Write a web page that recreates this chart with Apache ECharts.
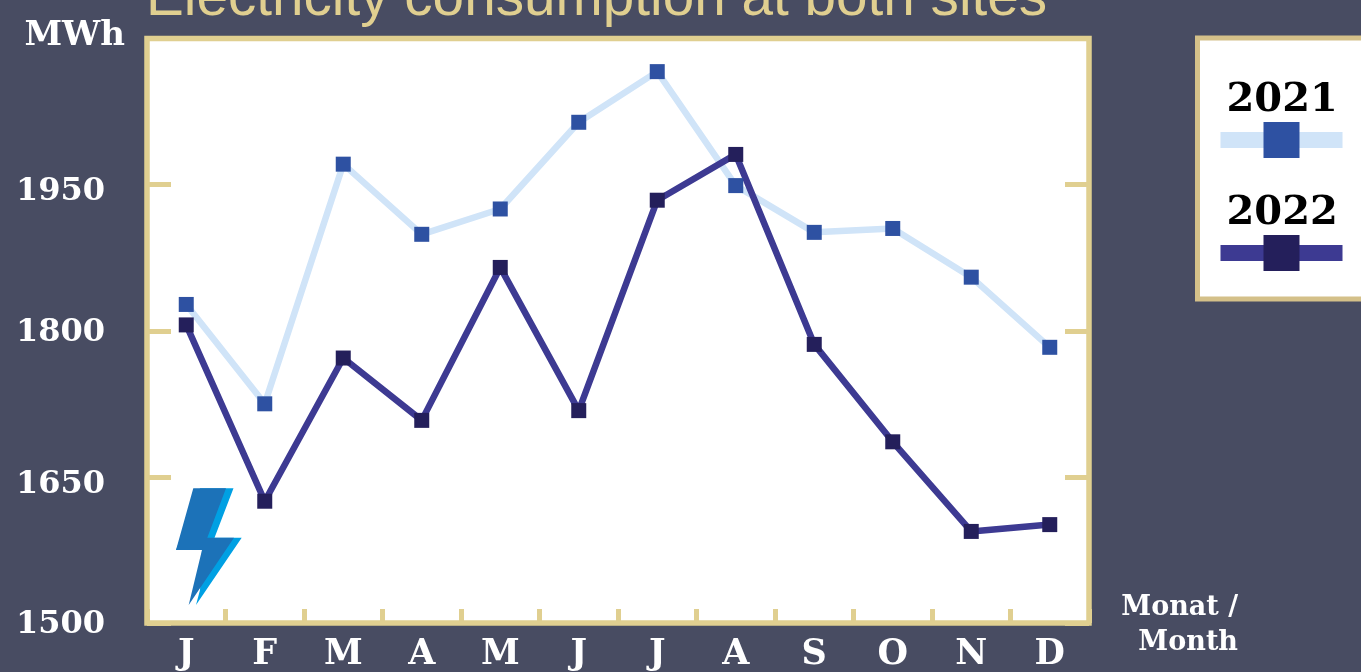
<!DOCTYPE html>
<html>
<head>
<meta charset="utf-8">
<script src="https://cdn.jsdelivr.net/npm/echarts@6/dist/echarts.min.js"></script>
<style>html,body{margin:0;padding:0;background:#484c62}#chart{width:1361px;height:672px}</style>
</head>
<body>
<div id="chart"></div>
<script>
const months = ['J','F','M','A','M','J','J','A','S','O','N','D'];
const values2021 = [1827,1725,1971,1899,1925,2014,2066,1949,1901,1905,1855,1783];
const values2022 = [1806,1625,1772,1708,1865,1718,1934,1981,1786,1686,1594,1601];
const chartTitle = 'Electricity consumption at both sites';
const yUnit = 'MWh';
const xName = 'Monat /\nMonth';

const serif = '"DejaVu Serif"';
const gold = '#e0cf90';

// Per-value rich styles nudge each tick label down to sit where its digits belong.
const yLabelRich = {
  d1500: { padding: [4, 0, 0, 0] },
  d1650: { padding: [16, 0, 0, 0] },
  d1800: { padding: [4, 0, 0, 0] },
  d1950: { padding: [14, 0, 0, 0] }
};

const chart = echarts.init(document.getElementById('chart'));
chart.setOption({
  animation: false,
  backgroundColor: '#484c62',
  title: {
    text: chartTitle, left: 141, top: -34,
    textStyle: { fontFamily: '"Liberation Sans"', fontWeight: 'normal', fontSize: 56.7, color: gold }
  },
  grid: {
    left: 147, top: 38.5, width: 942, height: 586,
    show: true, backgroundColor: '#ffffff', borderColor: gold, borderWidth: 5.5
  },
  legend: {
    left: 1197.5, top: 38, orient: 'vertical', itemWidth: 122, itemHeight: 45, itemGap: 35.5,
    padding: [42.5, 60, 28, 15], align: 'left',
    backgroundColor: '#ffffff', borderColor: '#d4c089', borderWidth: 5,
    lineStyle: { width: 16 },
    // The year sits above its line sample: bottom padding lifts the text off the icon's centre.
    formatter: name => '{year|' + name + '}',
    textStyle: {
      fontFamily: serif, fontWeight: 'bold', fontSize: 40, color: '#000', padding: [0, 0, 0, -121],
      rich: { year: { fontFamily: serif, fontWeight: 'bold', fontSize: 40, color: '#000', padding: [0, 0, 79, 0] } }
    },
    data: ['2021', '2022']
  },
  xAxis: {
    type: 'category', data: months,
    axisLine: { show: false },
    axisTick: { show: true, inside: true, length: 14, lineStyle: { color: gold, width: 5 } },
    axisLabel: { margin: 14, fontFamily: serif, fontWeight: 'bold', fontSize: 35, color: '#fff' },
    name: xName, nameLocation: 'end', nameGap: 149,
    nameTextStyle: { fontFamily: serif, fontWeight: 'bold', fontSize: 27, lineHeight: 35, color: '#fff', align: 'right', verticalAlign: 'top', padding: [-33, 0, 0, 0] }
  },
  yAxis: [
    {
      type: 'value', min: 1500, max: 2100, interval: 150,
      axisLine: { show: false }, splitLine: { show: false },
      axisTick: { show: true, inside: true, length: 24, lineStyle: { color: gold, width: 5 } },
      axisLabel: {
        margin: 42, fontFamily: serif, fontWeight: 'bold', fontSize: 32, color: '#fff', showMaxLabel: false,
        formatter: v => '{d' + v + '|' + v + '}', rich: yLabelRich
      },
      name: yUnit, nameLocation: 'end', nameGap: -15,
      nameTextStyle: { fontFamily: serif, fontWeight: 'bold', fontSize: 34, color: '#fff', align: 'right', padding: [0, 22, 0, 0] }
    },
    {
      type: 'value', position: 'right', min: 1500, max: 2100, interval: 150,
      axisLine: { show: false }, splitLine: { show: false }, axisLabel: { show: false },
      axisTick: { show: true, inside: true, length: 24, lineStyle: { color: gold, width: 5 } }
    }
  ],
  series: [
    {
      name: '2021', type: 'line', data: values2021, symbol: 'rect', symbolSize: 15,
      lineStyle: { color: '#d0e4f8', width: 6.5 }, itemStyle: { color: '#2e51a2' }
    },
    {
      name: '2022', type: 'line', data: values2022, symbol: 'rect', symbolSize: 15,
      lineStyle: { color: '#3d3a92', width: 6.5 }, itemStyle: { color: '#241f5b' }
    }
  ],
  graphic: [
    { type: 'polygon', z: 20, shape: { points: [[200,488.3],[233.5,488.3],[214.5,537.7],[241.7,537.7],[196,605],[200,590],[202,550],[176,550]] }, style: { fill: '#00a0e3' } },
    { type: 'polygon', z: 21, shape: { points: [[193.3,488.3],[226,488.3],[207.3,537.7],[234,537.7],[188.7,605],[202,550],[176,550]] }, style: { fill: '#1c72b8' } }
  ]
});
</script>
</body>
</html>
